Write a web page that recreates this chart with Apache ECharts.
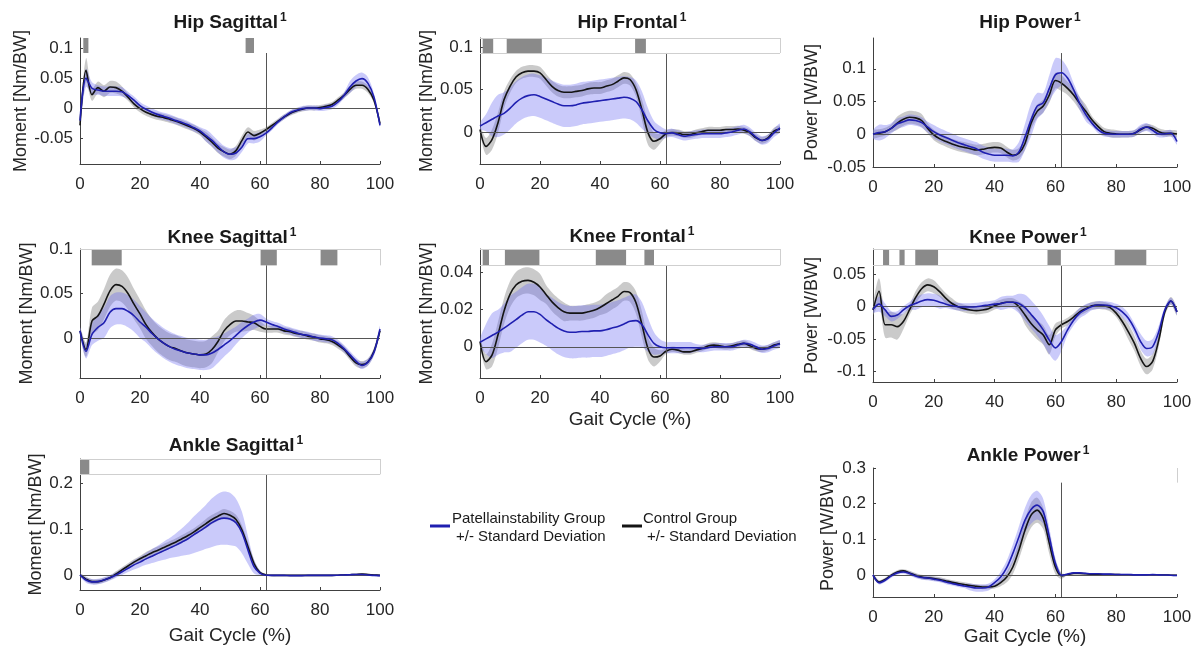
<!DOCTYPE html>
<html>
<head>
<meta charset="utf-8">
<title>Gait moments and powers</title>
<script src="https://cdn.jsdelivr.net/npm/echarts@6.0.0/dist/echarts.min.js"></script>
<style>
  html, body { margin: 0; padding: 0; background: #fff; }
  #chart { width: 1199px; height: 655px; }
</style>
</head>
<body>
<div id="chart"></div>
<script>
// gait cycle sample points (%)
const gait = [0, 2, 4, 6, 8, 10, 12, 14, 16, 18, 20, 22, 24, 26, 28, 30, 32, 34, 36, 38, 40, 42, 44, 46, 48, 50,
  52, 54, 56, 58, 60, 62, 64, 66, 68, 70, 72, 74, 76, 78, 80, 82, 84, 86, 88, 90, 92, 94, 96, 98, 100];
const toeOff = 62;

// Hip sagittal moment
const hipSagCon = [-0.029, 0.063, 0.022, 0.034, 0.028, 0.035, 0.034, 0.028, 0.018, 0.007, -0.001, -0.007, -0.011, -0.014, -0.016, -0.019, -0.022, -0.026, -0.030, -0.034, -0.040, -0.048, -0.057, -0.067, -0.073, -0.077,
  -0.071, -0.054, -0.040, -0.046, -0.042, -0.036, -0.029, -0.022, -0.015, -0.009, -0.005, -0.002, 0, 0, 0.001, 0.003, 0.006, 0.013, 0.021, 0.031, 0.038, 0.038, 0.031, 0.013, -0.026];
const hipSagConSd = [0.005, 0.02, 0.01, 0.01, 0.01, 0.01, 0.01, 0.008, 0.006, 0.006, 0.006, 0.006, 0.006, 0.006, 0.006, 0.006, 0.006, 0.006, 0.006, 0.006, 0.006, 0.008, 0.008, 0.008, 0.008, 0.008,
  0.008, 0.008, 0.008, 0.008, 0.006, 0.004, 0.004, 0.004, 0.004, 0.004, 0.004, 0.004, 0.004, 0.004, 0.004, 0.004, 0.004, 0.005, 0.005, 0.006, 0.006, 0.006, 0.006, 0.005, 0.004];
const hipSagPat = [-0.021, 0.05, 0.033, 0.03, 0.028, 0.028, 0.028, 0.027, 0.021, 0.013, 0.004, -0.002, -0.007, -0.011, -0.014, -0.017, -0.021, -0.024, -0.028, -0.033, -0.038, -0.046, -0.054, -0.064, -0.073, -0.077,
  -0.075, -0.065, -0.051, -0.051, -0.048, -0.042, -0.033, -0.023, -0.015, -0.008, -0.004, -0.001, 0, 0, -0.001, 0.001, 0.003, 0.010, 0.021, 0.035, 0.045, 0.049, 0.041, 0.018, -0.029];
const hipSagPatSd = [0.005, 0.015, 0.01, 0.008, 0.008, 0.008, 0.008, 0.008, 0.006, 0.006, 0.006, 0.006, 0.006, 0.006, 0.006, 0.006, 0.006, 0.006, 0.006, 0.006, 0.006, 0.01, 0.01, 0.01, 0.01, 0.01,
  0.01, 0.008, 0.008, 0.008, 0.008, 0.004, 0.004, 0.004, 0.004, 0.004, 0.004, 0.004, 0.004, 0.004, 0.004, 0.005, 0.005, 0.005, 0.005, 0.01, 0.01, 0.01, 0.01, 0.006, 0.004];
const hipSagSig = [[1.1, 2.8], [55.2, 58.0]];

// Hip frontal moment
const hipFrCon = [0.003, -0.017, -0.009, 0.011, 0.038, 0.054, 0.065, 0.070, 0.072, 0.072, 0.070, 0.062, 0.054, 0.049, 0.047, 0.047, 0.048, 0.049, 0.051, 0.052, 0.052, 0.054, 0.056, 0.060, 0.064, 0.062,
  0.050, 0.026, -0.001, -0.011, -0.008, -0.002, -0.0005, -0.001, -0.003, -0.003, -0.001, 0.0005, 0.002, 0.002, 0.002, 0.003, 0.003, 0.0035, 0.002, -0.001, -0.007, -0.010, -0.007, 0.001, 0.0035];
const hipFrConSd = [0.004, 0.01, 0.012, 0.012, 0.01, 0.008, 0.007, 0.007, 0.007, 0.007, 0.007, 0.007, 0.007, 0.007, 0.007, 0.007, 0.007, 0.007, 0.007, 0.007, 0.007, 0.007, 0.007, 0.007, 0.007, 0.007,
  0.008, 0.012, 0.014, 0.01, 0.006, 0.004, 0.004, 0.004, 0.004, 0.004, 0.004, 0.004, 0.004, 0.004, 0.004, 0.004, 0.004, 0.004, 0.004, 0.004, 0.004, 0.004, 0.004, 0.004, 0.004];
const hipFrPat = [0.007, 0.011, 0.015, 0.019, 0.022, 0.028, 0.035, 0.040, 0.043, 0.044, 0.042, 0.039, 0.036, 0.033, 0.031, 0.031, 0.032, 0.034, 0.035, 0.036, 0.037, 0.038, 0.039, 0.040, 0.041, 0.040,
  0.036, 0.026, 0.013, 0.003, -0.001, -0.002, -0.001, -0.003, -0.005, -0.004, -0.003, -0.002, -0.002, -0.002, -0.002, -0.001, 0, 0.002, 0.0035, 0, -0.006, -0.010, -0.008, -0.001, 0.005];
const hipFrPatSd = [0.004, 0.01, 0.02, 0.025, 0.025, 0.025, 0.025, 0.025, 0.025, 0.025, 0.025, 0.025, 0.025, 0.025, 0.025, 0.025, 0.025, 0.025, 0.025, 0.025, 0.025, 0.025, 0.025, 0.025, 0.025, 0.025,
  0.025, 0.022, 0.015, 0.01, 0.008, 0.005, 0.005, 0.005, 0.005, 0.005, 0.005, 0.005, 0.005, 0.005, 0.005, 0.005, 0.005, 0.005, 0.005, 0.005, 0.005, 0.005, 0.005, 0.005, 0.005];
const hipFrSig = [[0.9, 4.4], [8.9, 20.6], [51.7, 55.3]];

// Hip power
const hipPwCon = [0, 0.0015, 0.004, 0.009, 0.017, 0.023, 0.026, 0.025, 0.021, 0.009, -0.001, -0.007, -0.011, -0.015, -0.018, -0.020, -0.022, -0.024, -0.023, -0.021, -0.020, -0.021, -0.027, -0.032, -0.029, -0.014,
  0.017, 0.035, 0.043, 0.060, 0.082, 0.078, 0.070, 0.060, 0.047, 0.035, 0.022, 0.012, 0.004, 0.0015, 0.0005, 0, 0, 0.0015, 0.007, 0.011, 0.009, 0.004, 0.0015, 0.0015, 0.0005];
const hipPwConSd = [0.006, 0.006, 0.006, 0.006, 0.01, 0.01, 0.01, 0.01, 0.01, 0.008, 0.008, 0.008, 0.008, 0.008, 0.008, 0.008, 0.008, 0.008, 0.008, 0.008, 0.008, 0.008, 0.008, 0.008, 0.008, 0.01,
  0.01, 0.01, 0.01, 0.012, 0.012, 0.012, 0.01, 0.01, 0.01, 0.01, 0.006, 0.006, 0.006, 0.006, 0.006, 0.005, 0.005, 0.005, 0.005, 0.005, 0.005, 0.005, 0.005, 0.005, 0.005];
const hipPwPat = [0, 0.0025, 0.004, 0.009, 0.016, 0.019, 0.022, 0.021, 0.018, 0.011, 0.004, -0.001, -0.005, -0.009, -0.013, -0.016, -0.019, -0.022, -0.027, -0.030, -0.032, -0.032, -0.032, -0.033, -0.027, -0.004,
  0.022, 0.043, 0.048, 0.070, 0.091, 0.094, 0.086, 0.068, 0.047, 0.030, 0.017, 0.007, 0.0015, 0.0005, 0, 0, 0, 0.0015, 0.008, 0.011, 0.006, 0.0005, 0.0005, 0.0015, -0.011];
const hipPwPatSd = [0.006, 0.012, 0.01, 0.008, 0.008, 0.008, 0.008, 0.008, 0.008, 0.008, 0.01, 0.01, 0.01, 0.01, 0.01, 0.01, 0.01, 0.01, 0.01, 0.01, 0.01, 0.01, 0.01, 0.01, 0.015, 0.02,
  0.025, 0.02, 0.015, 0.02, 0.025, 0.02, 0.015, 0.01, 0.01, 0.01, 0.005, 0.005, 0.005, 0.005, 0.005, 0.005, 0.005, 0.005, 0.006, 0.006, 0.006, 0.005, 0.005, 0.005, 0.005];
const hipPwSig = [];

// Knee sagittal moment
const knSagCon = [0.008, -0.013, 0.019, 0.025, 0.038, 0.053, 0.060, 0.058, 0.050, 0.038, 0.027, 0.015, 0.006, -0.001, -0.006, -0.010, -0.012, -0.015, -0.017, -0.018, -0.019, -0.018, -0.013, -0.004, 0.008, 0.015,
  0.019, 0.019, 0.018, 0.017, 0.013, 0.010, 0.010, 0.010, 0.008, 0.007, 0.005, 0.004, 0.002, 0.001, -0.001, -0.002, -0.004, -0.008, -0.013, -0.021, -0.028, -0.030, -0.027, -0.015, 0.008];
const knSagConSd = [0.004, 0.008, 0.015, 0.016, 0.017, 0.018, 0.018, 0.018, 0.018, 0.017, 0.016, 0.016, 0.015, 0.015, 0.015, 0.015, 0.015, 0.015, 0.015, 0.015, 0.015, 0.015, 0.015, 0.012, 0.012, 0.012,
  0.012, 0.012, 0.01, 0.008, 0.006, 0.004, 0.004, 0.004, 0.004, 0.004, 0.004, 0.004, 0.004, 0.004, 0.004, 0.004, 0.004, 0.004, 0.004, 0.004, 0.004, 0.004, 0.004, 0.004, 0.004];
const knSagPat = [0.008, -0.015, 0.004, 0.012, 0.017, 0.029, 0.033, 0.033, 0.030, 0.025, 0.018, 0.012, 0.005, -0.001, -0.006, -0.010, -0.013, -0.015, -0.017, -0.018, -0.019, -0.019, -0.017, -0.013, -0.008, -0.003,
  0.003, 0.009, 0.014, 0.018, 0.020, 0.018, 0.015, 0.013, 0.010, 0.008, 0.006, 0.004, 0.003, 0.001, 0, -0.001, -0.002, -0.006, -0.012, -0.019, -0.026, -0.031, -0.027, -0.016, 0.010];
const knSagPatSd = [0.004, 0.008, 0.012, 0.015, 0.017, 0.018, 0.018, 0.018, 0.018, 0.018, 0.018, 0.017, 0.017, 0.017, 0.017, 0.017, 0.017, 0.017, 0.017, 0.017, 0.017, 0.017, 0.017, 0.015, 0.013, 0.012,
  0.01, 0.009, 0.008, 0.008, 0.007, 0.004, 0.004, 0.004, 0.004, 0.004, 0.004, 0.004, 0.004, 0.004, 0.004, 0.004, 0.004, 0.004, 0.004, 0.004, 0.004, 0.004, 0.004, 0.004, 0.004];
const knSagSig = [[3.9, 13.9], [60.2, 65.6], [80.2, 85.8]];

// Knee frontal moment
const knFrCon = [0.0027, -0.008, -0.0045, 0.0064, 0.019, 0.028, 0.033, 0.035, 0.0355, 0.0345, 0.032, 0.028, 0.024, 0.021, 0.0187, 0.018, 0.018, 0.018, 0.0187, 0.0195, 0.021, 0.023, 0.025, 0.027, 0.0296, 0.029,
  0.0236, 0.0118, -0.0009, -0.0055, -0.0049, -0.0024, -0.0013, -0.0018, -0.0027, -0.0027, -0.0018, -0.0009, 0.0004, 0.0009, 0.0005, 0, 0.0005, 0.0013, 0.0018, 0.0005, -0.0009, -0.0013, -0.0005, 0.0009, 0.0018];
const knFrConSd = [0.002, 0.004, 0.006, 0.007, 0.007, 0.007, 0.007, 0.007, 0.007, 0.007, 0.007, 0.005, 0.005, 0.005, 0.005, 0.004, 0.004, 0.004, 0.004, 0.004, 0.004, 0.005, 0.005, 0.005, 0.005, 0.005,
  0.006, 0.007, 0.006, 0.005, 0.003, 0.0015, 0.0015, 0.0015, 0.0015, 0.0015, 0.0015, 0.0015, 0.0015, 0.0015, 0.0015, 0.0015, 0.0015, 0.0015, 0.0015, 0.0015, 0.0015, 0.0015, 0.0015, 0.0015, 0.0015];
const knFrPat = [0.0024, 0.0042, 0.006, 0.0078, 0.010, 0.0122, 0.0145, 0.0169, 0.0187, 0.0187, 0.0173, 0.0145, 0.0122, 0.010, 0.0085, 0.0078, 0.0078, 0.0082, 0.0082, 0.0085, 0.0085, 0.0091, 0.010, 0.0109, 0.0122, 0.0136,
  0.014, 0.0118, 0.0064, 0.0018, 0, -0.0005, -0.0005, -0.0005, -0.0005, -0.0005, -0.0005, -0.0009, -0.0005, 0, 0, 0, 0, 0.0009, 0.0018, 0.0013, 0, -0.0013, -0.0009, 0.0004, 0.0016];
const knFrPatSd = [0.002, 0.008, 0.012, 0.012, 0.013, 0.015, 0.015, 0.015, 0.015, 0.015, 0.015, 0.014, 0.014, 0.014, 0.014, 0.014, 0.014, 0.014, 0.014, 0.014, 0.014, 0.014, 0.014, 0.014, 0.014, 0.014,
  0.014, 0.012, 0.009, 0.006, 0.004, 0.003, 0.003, 0.003, 0.003, 0.003, 0.002, 0.002, 0.002, 0.002, 0.002, 0.002, 0.002, 0.002, 0.002, 0.002, 0.002, 0.002, 0.002, 0.002, 0.002];
const knFrSig = [[0.9, 3.0], [8.3, 19.8], [38.6, 48.7], [54.8, 58.0]];

// Knee power
const knPwCon = [-0.005, 0.024, -0.028, -0.028, -0.031, -0.023, -0.005, 0.014, 0.028, 0.034, 0.031, 0.023, 0.013, 0.005, 0, -0.003, -0.005, -0.006, -0.005, -0.003, 0.0015, 0.005, 0.007, 0.007, 0, -0.013,
  -0.026, -0.036, -0.044, -0.059, -0.036, -0.028, -0.023, -0.016, -0.008, -0.003, 0.0015, 0.0026, 0.0015, -0.0015, -0.010, -0.023, -0.039, -0.057, -0.080, -0.093, -0.085, -0.052, -0.008, 0.009, -0.008];
const knPwConSd = [0.008, 0.02, 0.02, 0.02, 0.02, 0.012, 0.008, 0.01, 0.01, 0.01, 0.01, 0.008, 0.008, 0.008, 0.006, 0.006, 0.006, 0.006, 0.006, 0.006, 0.006, 0.006, 0.006, 0.006, 0.008, 0.015,
  0.015, 0.015, 0.015, 0.015, 0.01, 0.006, 0.006, 0.006, 0.006, 0.006, 0.006, 0.006, 0.006, 0.006, 0.006, 0.008, 0.012, 0.012, 0.012, 0.012, 0.012, 0.01, 0.006, 0.006, 0.006];
const knPwPat = [-0.004, 0.004, -0.005, -0.015, -0.013, -0.005, 0.0015, 0.005, 0.009, 0.011, 0.010, 0.007, 0.004, 0.0015, 0, -0.0005, -0.0005, 0, 0.0015, 0.0026, 0.004, 0.005, 0.007, 0.007, 0.005, -0.0015,
  -0.012, -0.023, -0.036, -0.052, -0.064, -0.054, -0.036, -0.021, -0.010, -0.004, 0.0005, 0.0026, 0.0026, 0.0015, -0.0015, -0.008, -0.018, -0.034, -0.054, -0.065, -0.062, -0.039, -0.005, 0.009, -0.008];
const knPwPatSd = [0.005, 0.012, 0.01, 0.008, 0.006, 0.006, 0.006, 0.01, 0.01, 0.01, 0.01, 0.01, 0.006, 0.006, 0.006, 0.006, 0.006, 0.006, 0.006, 0.006, 0.006, 0.01, 0.01, 0.01, 0.015, 0.02,
  0.022, 0.022, 0.022, 0.022, 0.02, 0.015, 0.008, 0.008, 0.008, 0.008, 0.006, 0.006, 0.006, 0.006, 0.006, 0.008, 0.008, 0.008, 0.012, 0.012, 0.012, 0.01, 0.005, 0.005, 0.005];
const knPwSig = [[3.3, 5.3], [8.7, 10.4], [13.9, 21.4], [57.4, 61.8], [79.5, 89.9]];

// Ankle sagittal moment
const anSagCon = [0, -0.009, -0.0145, -0.0145, -0.011, -0.006, 0.002, 0.011, 0.0196, 0.028, 0.0355, 0.042, 0.0486, 0.054, 0.060, 0.066, 0.072, 0.079, 0.086, 0.094, 0.103, 0.112, 0.121, 0.128, 0.134, 0.130,
  0.121, 0.098, 0.0616, 0.025, 0.005, 0, -0.001, -0.001, -0.001, -0.001, -0.001, -0.001, -0.001, -0.001, -0.001, -0.001, -0.001, -0.0005, 0, 0.0005, 0.001, 0.002, 0.001, 0, -0.001];
const anSagConSd = [0.003, 0.005, 0.005, 0.005, 0.005, 0.005, 0.006, 0.006, 0.006, 0.006, 0.006, 0.008, 0.008, 0.008, 0.008, 0.008, 0.008, 0.008, 0.008, 0.008, 0.008, 0.01, 0.01, 0.01, 0.01, 0.01,
  0.01, 0.01, 0.01, 0.008, 0.004, 0.0015, 0.0015, 0.0015, 0.0015, 0.0015, 0.0015, 0.0015, 0.0015, 0.0015, 0.0015, 0.0015, 0.0015, 0.0015, 0.0015, 0.0015, 0.0015, 0.0015, 0.0015, 0.0015, 0.0015];
const anSagPat = [0, -0.011, -0.015, -0.0145, -0.011, -0.006, 0, 0.007, 0.0145, 0.022, 0.028, 0.035, 0.041, 0.047, 0.053, 0.059, 0.065, 0.072, 0.079, 0.088, 0.096, 0.105, 0.114, 0.121, 0.124, 0.122,
  0.114, 0.092, 0.054, 0.018, 0.004, -0.0007, -0.001, -0.001, -0.001, -0.0015, -0.0015, -0.0015, -0.001, -0.001, -0.001, -0.001, -0.001, -0.0005, 0, 0.0005, 0.001, 0.001, 0, -0.001, -0.0015];
const anSagPatSd = [0.003, 0.006, 0.006, 0.006, 0.006, 0.006, 0.006, 0.007, 0.008, 0.01, 0.011, 0.013, 0.015, 0.017, 0.02, 0.022, 0.026, 0.03, 0.035, 0.04, 0.044, 0.048, 0.053, 0.056, 0.058, 0.057,
  0.052, 0.045, 0.03, 0.015, 0.005, 0.0015, 0.0015, 0.0015, 0.0015, 0.0015, 0.0015, 0.0015, 0.0015, 0.0015, 0.0015, 0.0015, 0.0015, 0.0015, 0.0015, 0.0015, 0.0015, 0.0015, 0.0015, 0.0015, 0.0015];
const anSagSig = [[0, 3.1]];

// Ankle power
const anPwCon = [0, -0.019, -0.012, 0, 0.009, 0.012, 0.0065, 0, -0.005, -0.0075, -0.009, -0.012, -0.016, -0.020, -0.023, -0.026, -0.029, -0.031, -0.033, -0.033, -0.031, -0.021, -0.005, 0.023, 0.070, 0.126,
  0.168, 0.182, 0.159, 0.089, 0.023, -0.002, 0.002, 0.005, 0.005, 0.004, 0.003, 0.003, 0.002, 0.002, 0.002, 0.001, 0.001, 0.001, 0.001, 0.001, 0.001, 0.0005, 0.0005, 0, 0];
const anPwConSd = [0.005, 0.005, 0.005, 0.005, 0.005, 0.005, 0.006, 0.006, 0.006, 0.006, 0.006, 0.006, 0.006, 0.006, 0.006, 0.006, 0.006, 0.006, 0.006, 0.006, 0.006, 0.01, 0.015, 0.02, 0.025, 0.03,
  0.035, 0.035, 0.03, 0.03, 0.02, 0.008, 0.002, 0.002, 0.002, 0.002, 0.002, 0.002, 0.002, 0.002, 0.002, 0.002, 0.002, 0.002, 0.002, 0.002, 0.002, 0.002, 0.002, 0.002, 0.002];
const anPwPat = [0, -0.021, -0.014, -0.002, 0.0065, 0.009, 0.005, -0.002, -0.0065, -0.008, -0.011, -0.014, -0.019, -0.023, -0.027, -0.030, -0.033, -0.036, -0.036, -0.033, -0.021, -0.005, 0.021, 0.061, 0.107, 0.154,
  0.184, 0.196, 0.178, 0.107, 0.033, 0, 0.003, 0.0065, 0.0065, 0.005, 0.004, 0.004, 0.003, 0.003, 0.002, 0.002, 0.002, 0.001, 0.001, 0.001, 0.0015, 0.001, 0.0005, 0, -0.001];
const anPwPatSd = [0.005, 0.005, 0.005, 0.005, 0.005, 0.005, 0.006, 0.006, 0.006, 0.006, 0.006, 0.006, 0.006, 0.006, 0.006, 0.006, 0.01, 0.01, 0.01, 0.01, 0.01, 0.015, 0.02, 0.025, 0.03, 0.035,
  0.04, 0.04, 0.035, 0.025, 0.015, 0.005, 0.002, 0.002, 0.002, 0.002, 0.002, 0.002, 0.002, 0.002, 0.002, 0.002, 0.002, 0.002, 0.002, 0.002, 0.002, 0.002, 0.002, 0.002, 0.002];
const anPwSig = [];

const xTicks = [0, 20, 40, 60, 80, 100];

const fontFam = "'Liberation Sans', Arial, Helvetica, sans-serif";
const blue = '#1f1fb0';
const black = '#141414';
const blueBand = 'rgba(100, 100, 240, 0.34)';
const grayBand = 'rgba(150, 150, 150, 0.5)';

const panels = [
  { title: 'Hip Sagittal', tPos: [230, 23], rect: [80, 38, 300, 126], yMin: -0.0933, yMax: 0.1167, stripLow: 0.0917,
    yTicks: [-0.05, 0, 0.05, 0.1], yName: 'Moment [Nm/BW]', nameGap: 50, frame: [],
    con: hipSagCon, conSd: hipSagConSd, pat: hipSagPat, patSd: hipSagPatSd, sig: hipSagSig },
  { title: 'Hip Frontal', tPos: [632, 23], rect: [480, 38, 300, 126], yMin: -0.0378, yMax: 0.1111, stripLow: 0.0934,
    yTicks: [0, 0.05, 0.1], yName: 'Moment [Nm/BW]', nameGap: 44, frame: ['top', 'bottom', 'right'],
    con: hipFrCon, conSd: hipFrConSd, pat: hipFrPat, patSd: hipFrPatSd, sig: hipFrSig },
  { title: 'Hip Power', tPos: [1030, 23], rect: [873, 38, 304, 129], yMin: -0.05, yMax: 0.147, stripLow: 0.124,
    yTicks: [-0.05, 0, 0.05, 0.1], yName: 'Power [W/BW]', nameGap: 52, frame: [],
    con: hipPwCon, conSd: hipPwConSd, pat: hipPwPat, patSd: hipPwPatSd, sig: hipPwSig },
  { title: 'Knee Sagittal', tPos: [232, 238], rect: [80, 249, 300, 129], yMin: -0.045, yMax: 0.1, stripLow: 0.0816,
    yTicks: [0, 0.05, 0.1], yName: 'Moment [Nm/BW]', nameGap: 44, frame: ['top', 'right'],
    con: knSagCon, conSd: knSagConSd, pat: knSagPat, patSd: knSagPatSd, sig: knSagSig },
  { title: 'Knee Frontal', tPos: [632, 237], rect: [480, 249, 300, 129], yMin: -0.0167, yMax: 0.0523, stripLow: 0.0435,
    yTicks: [0, 0.02, 0.04], yName: 'Moment [Nm/BW]', nameGap: 44, frame: ['top', 'bottom', 'right'],
    xName: 'Gait Cycle (%)', xGap: 32,
    con: knFrCon, conSd: knFrConSd, pat: knFrPat, patSd: knFrPatSd, sig: knFrSig },
  { title: 'Knee Power', tPos: [1028, 238], rect: [873, 249, 304, 133], yMin: -0.117, yMax: 0.0897, stripLow: 0.064,
    yTicks: [-0.1, -0.05, 0, 0.05], yName: 'Power [W/BW]', nameGap: 52, frame: ['top', 'bottom', 'right'],
    con: knPwCon, conSd: knPwConSd, pat: knPwPat, patSd: knPwPatSd, sig: knPwSig },
  { title: 'Ankle Sagittal', tPos: [236, 446], rect: [80, 459, 300, 131], yMin: -0.0328, yMax: 0.2528, stripLow: 0.2194,
    yTicks: [0, 0.1, 0.2], yName: 'Moment [Nm/BW]', nameGap: 35, frame: ['top', 'bottom', 'right'],
    xName: 'Gait Cycle (%)', xGap: 36,
    con: anSagCon, conSd: anSagConSd, pat: anSagPat, patSd: anSagPatSd, sig: anSagSig },
  { title: 'Ankle Power', tPos: [1028, 456], rect: [873, 468, 304, 129], yMin: -0.061, yMax: 0.3, stripLow: 0.259,
    yTicks: [0, 0.1, 0.2, 0.3], yName: 'Power [W/BW]', nameGap: 36, frame: ['right'],
    xName: 'Gait Cycle (%)', xGap: 29,
    con: anPwCon, conSd: anPwConSd, pat: anPwPat, patSd: anPwPatSd, sig: anPwSig }
];

function bandSeries(idx, mean, sd, color, z) {
  return {
    type: 'custom',
    xAxisIndex: idx,
    yAxisIndex: idx,
    z: z,
    silent: true,
    clip: true,
    data: [[gait[0], mean[0]]],
    renderItem: function (params, api) {
      const upper = gait.map((g, i) => api.coord([g, mean[i] + sd[i]]));
      const lower = gait.map((g, i) => api.coord([g, mean[i] - sd[i]])).reverse();
      return {
        type: 'polygon',
        shape: { points: upper.concat(lower), smooth: 0.3 },
        style: { fill: color }
      };
    }
  };
}

function meanSeries(idx, mean, color, z) {
  return {
    type: 'line',
    xAxisIndex: idx,
    yAxisIndex: idx,
    z: z,
    silent: true,
    showSymbol: false,
    smooth: 0.3,
    lineStyle: { color: color, width: 1.6 },
    data: gait.map((g, i) => [g, mean[i]])
  };
}

const option = {
  animation: false,
  backgroundColor: '#fff',
  textStyle: { fontFamily: fontFam },
  grid: [],
  xAxis: [],
  yAxis: [],
  series: [],
  graphic: []
};

panels.forEach((p, i) => {
  option.grid.push({ left: p.rect[0], top: p.rect[1], width: p.rect[2], height: p.rect[3], containLabel: false });

  option.xAxis.push({
    type: 'value', gridIndex: i, min: 0, max: 100, interval: 20,
    name: p.xName || '', nameLocation: 'middle', nameGap: p.xGap || 30,
    nameTextStyle: { fontSize: 19, color: '#262626', fontFamily: fontFam },
    axisLine: { show: true, onZero: false, lineStyle: { color: '#404040', width: 1 } },
    axisTick: { show: true, inside: true, length: 3, lineStyle: { color: '#404040' } },
    axisLabel: { fontSize: 17, color: '#262626', margin: 12, fontFamily: fontFam, customValues: xTicks },
    splitLine: { show: false }
  });

  option.yAxis.push({
    type: 'value', gridIndex: i, min: p.yMin, max: p.yMax,
    name: p.yName, nameLocation: 'middle', nameRotate: 90, nameGap: p.nameGap,
    nameTextStyle: { fontSize: 18, color: '#262626', fontFamily: fontFam },
    axisLine: { show: true, onZero: false, lineStyle: { color: '#404040', width: 1 } },
    axisTick: { show: true, inside: true, length: 3, customValues: p.yTicks, lineStyle: { color: '#404040' } },
    axisLabel: { fontSize: 17, color: '#262626', margin: 7, fontFamily: fontFam, customValues: p.yTicks,
      formatter: v => String(+(+v).toFixed(3)) },
    splitLine: { show: false }
  });

  // significance strip, zero line and toe-off line
  const frameStyle = { color: '#cfcfcf', width: 1, type: 'solid' };
  const markLines = [
    [{ coord: [0, 0] }, { coord: [100, 0] }],
    [{ coord: [toeOff, p.yMin] }, { coord: [toeOff, p.stripLow] }]
  ];
  if (p.frame.includes('top')) markLines.push([{ coord: [0, p.yMax], lineStyle: frameStyle }, { coord: [100, p.yMax] }]);
  if (p.frame.includes('bottom')) markLines.push([{ coord: [0, p.stripLow], lineStyle: frameStyle }, { coord: [100, p.stripLow] }]);
  if (p.frame.includes('right')) markLines.push([{ coord: [100, p.stripLow], lineStyle: frameStyle }, { coord: [100, p.yMax] }]);

  option.series.push(bandSeries(i, p.con, p.conSd, grayBand, 1));
  option.series.push(bandSeries(i, p.pat, p.patSd, blueBand, 2));
  option.series.push({
    type: 'line', xAxisIndex: i, yAxisIndex: i, z: 3, silent: true, showSymbol: false,
    lineStyle: { opacity: 0 }, data: [[0, 0]],
    markLine: {
      silent: true, symbol: ['none', 'none'], label: { show: false }, animation: false,
      lineStyle: { color: '#555', width: 1, type: 'solid' },
      emphasis: { disabled: true },
      data: markLines
    },
    markArea: {
      silent: true, animation: false,
      itemStyle: { color: '#8a8a8a' },
      emphasis: { disabled: true },
      data: p.sig.map(s => [{ coord: [s[0], p.stripLow] }, { coord: [s[1], p.yMax] }])
    }
  });
  option.series.push(meanSeries(i, p.con, black, 4));
  option.series.push(meanSeries(i, p.pat, blue, 5));

  option.graphic.push({
    type: 'text', x: p.tPos[0], y: p.tPos[1],
    style: {
      text: '{t|' + p.title + '}{s|1}',
      textAlign: 'center', textVerticalAlign: 'middle', align: 'center', verticalAlign: 'middle',
      rich: {
        t: { fontSize: 19, fontWeight: 'bold', fontFamily: fontFam, fill: '#1a1a1a', lineHeight: 22 },
        s: { fontSize: 12, fontWeight: 'bold', fontFamily: fontFam, fill: '#1a1a1a', verticalAlign: 'top', padding: [0, 0, 0, 2] }
      }
    }
  });
});

// legend in the empty middle cell
const legendFont = '15px ' + fontFam;
option.graphic.push(
  { type: 'line', shape: { x1: 430, y1: 526, x2: 450, y2: 526 }, style: { stroke: blue, lineWidth: 3 } },
  { type: 'text', x: 452, y: 519, style: { text: 'Patellainstability Group', font: legendFont, fill: '#1a1a1a', textVerticalAlign: 'middle', verticalAlign: 'middle' } },
  { type: 'text', x: 456, y: 537, style: { text: '+/- Standard Deviation', font: legendFont, fill: '#1a1a1a', textVerticalAlign: 'middle', verticalAlign: 'middle' } },
  { type: 'line', shape: { x1: 622, y1: 526, x2: 642, y2: 526 }, style: { stroke: black, lineWidth: 3 } },
  { type: 'text', x: 643, y: 519, style: { text: 'Control Group', font: legendFont, fill: '#1a1a1a', textVerticalAlign: 'middle', verticalAlign: 'middle' } },
  { type: 'text', x: 647, y: 537, style: { text: '+/- Standard Deviation', font: legendFont, fill: '#1a1a1a', textVerticalAlign: 'middle', verticalAlign: 'middle' } }
);

const chart = echarts.init(document.getElementById('chart'), null, { renderer: 'canvas' });
chart.setOption(option);
window.addEventListener('resize', () => chart.resize());
</script>
</body>
</html>
